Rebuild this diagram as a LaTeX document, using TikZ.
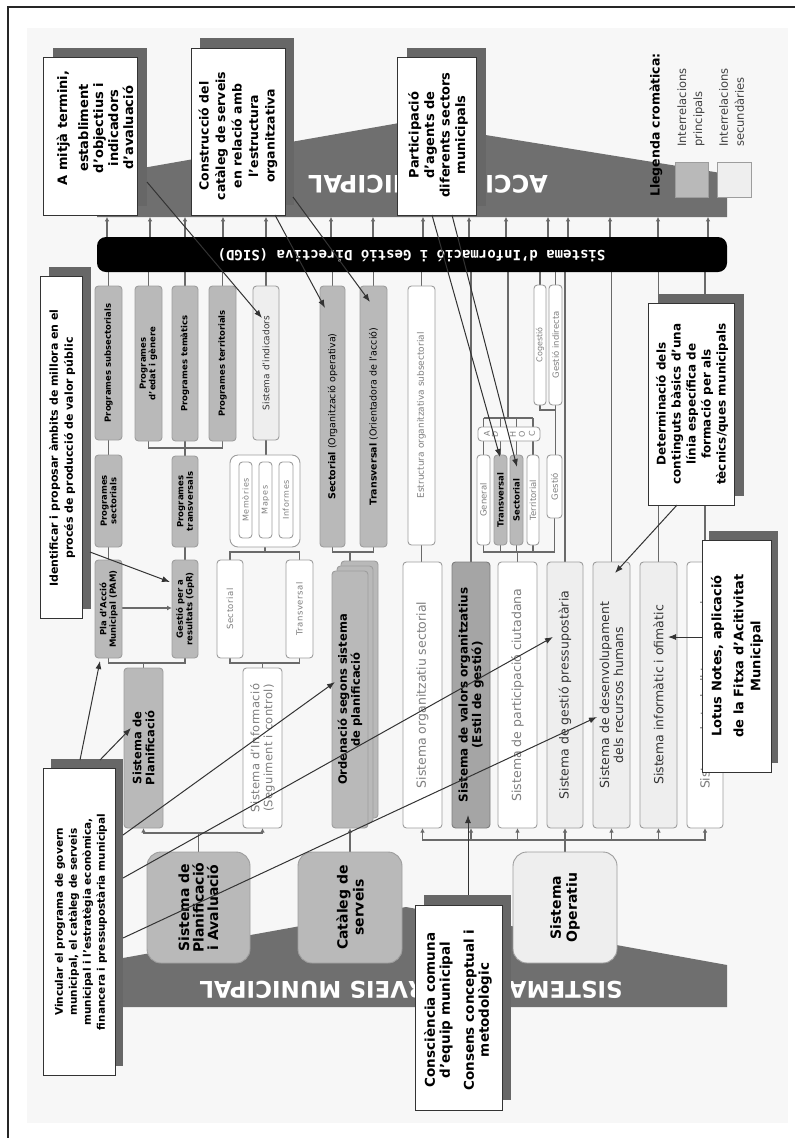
\documentclass[tikz,border=0pt]{standalone}
\usepackage{fontspec}
\setmainfont{DejaVu Sans}
\newfontfamily\monofont{DejaVu Sans Mono}
\usetikzlibrary{arrows.meta}

\definecolor{bannergray}{HTML}{6F6F6F}
\definecolor{shadowgray}{HTML}{676767}
\definecolor{boxmid}{HTML}{B9B9B9}
\definecolor{boxdark}{HTML}{A5A5A5}
\definecolor{boxlight}{HTML}{EEEEEE}
\definecolor{boxedge}{HTML}{9D9D9D}
\definecolor{conngray}{HTML}{6A6A6A}
\definecolor{textgray}{HTML}{7E7E7E}
\definecolor{textdark}{HTML}{333333}

\newcommand{\fsz}[2]{\fontsize{#1}{#2}\selectfont}
% box given by its corners: name, style, x1, y1, x2, y2
\newcommand{\boxnode}[6]{\node[#2, minimum width={(#5)-(#3)}, minimum height={(#6)-(#4)}] (#1) at ({((#3)+(#5))/2},{((#4)+(#6))/2}) {};}
% callout with dark shadow: name, x1, y1, x2, y2, dx, dy
\newcommand{\calloutbox}[7]{%
  \fill[shadowgray] ({(#2)+(#6)},{(#3)-(#7)}) rectangle ({(#4)+(#6)},{(#5)-(#7)});
  \node[callbox, minimum width={(#4)-(#2)}, minimum height={(#5)-(#3)}] (#1) at ({((#2)+(#4))/2},{((#3)+(#5))/2}) {};}

\pgfdeclarelayer{back}
\pgfdeclarelayer{lines}
\pgfdeclarelayer{front}
\pgfsetlayers{back,lines,main,front}

\begin{document}
\begin{tikzpicture}[x=1pt,y=-1pt,
  box/.style={draw=boxedge, line width=0.9pt, rounded corners=3.5pt, inner sep=0pt, outer sep=0pt},
  gbox/.style={box, fill=boxmid},
  dbox/.style={box, fill=boxdark, draw=boxedge!80!black},
  lbox/.style={box, fill=boxlight},
  wbox/.style={box, fill=white},
  bigbox/.style={rounded corners=14pt},
  vt/.style={rotate=90, align=center, inner sep=0pt},
  gt/.style={text=textgray},
  dt/.style={text=textdark},
  conn/.style={draw=conngray, line width=1.5pt},
  uparr/.style={conn, -{Latex[length=4.5pt,width=4.5pt]}},
  callbox/.style={draw=black!80, fill=white, line width=0.9pt, inner sep=0pt, outer sep=0pt},
  callarr/.style={draw=black!80, line width=1pt, -{Latex[length=8pt,width=6pt]}},
  bannertxt/.style={rotate=180, text=white, inner sep=0pt},
  callfont/.style={vt, font=#1\bfseries}
]
\useasboundingbox (0,0) rectangle (795,1138);

% ---------- background, frame and the two banners ----------
\begin{pgfonlayer}{back}
  \fill[black!3] (27,28) rectangle (788,1123);
  \draw[black!85, line width=1.2pt] (8,1138) -- (8,7) -- (795,7);
  \fill[bannergray] (97,217) -- (97,176) -- (405,122) -- (727,174) -- (727,217) -- cycle;
  \fill[bannergray] (123,1007) -- (123,958) -- (406,907) -- (727,965) -- (727,1007) -- cycle;
  \node[bannertxt, font=\fsz{24}{24}\bfseries] (acc) at (428,186) {ACCIÓ MUNICIPAL};
  \node[bannertxt, font=\fsz{23}{23}\bfseries] (ssm) at (411,990) {SISTEMA DE SERVEIS MUNICIPAL};
\end{pgfonlayer}

% ---------- SIGD bar ----------
\node[fill=black, rounded corners=9pt, minimum width=630, minimum height=35, inner sep=0pt] (bar) at (412,254.5) {};
\node[rotate=180, text=white, inner sep=0pt, font=\monofont\bfseries\fsz{14}{14}] (bartxt) at (411.5,255) {Sistema d’Informació i Gestió Directiva (SIGD)};
\foreach \x in {107,150,185,223,266,331,373,423,469,506,548,568,610,658,708}
  \draw[uparr] (bar.north -| \x,0) -- ++(0,-20);

% ---------- upper row ----------
\boxnode{ps}{gbox}{95}{286}{122}{440}
\boxnode{pe}{gbox}{135}{286}{162}{441}
\boxnode{pt}{gbox}{172}{286}{198}{441}
\boxnode{pr}{gbox}{209}{286}{236}{441}
\boxnode{ind}{lbox}{253}{286}{279}{440}
\boxnode{sop}{gbox}{320}{286}{345}{547}
\boxnode{tor}{gbox}{360}{286}{387}{547}
\boxnode{est}{wbox}{408}{286}{435}{545}
\boxnode{cog}{wbox}{534}{285}{546}{405}
\boxnode{gin}{wbox}{549}{285}{562}{405}
\node[vt, font=\fsz{8.5}{10}\bfseries] at (ps) {Programes subsectorials};
\node[vt, font=\fsz{8.5}{9.5}\bfseries] at (pe) {Programes\\d’edat i gènere};
\node[vt, font=\fsz{8.5}{10}\bfseries] at (pt) {Programes temàtics};
\node[vt, font=\fsz{8.5}{10}\bfseries] at (pr) {Programes territorials};
\node[vt, dt, font=\fsz{9}{10}] at (ind) {Sistema d’indicadors};
\node[vt, font=\fsz{9.5}{10}] at (sop) {\textbf{Sectorial} (Organització operativa)};
\node[vt, font=\fsz{9.5}{10}] at (tor) {\textbf{Transversal} (Orientadora de l’acció)};
\node[vt, gt, font=\fsz{9}{10}] at (est) {Estructura organitzativa subsectorial};
\node[vt, gt, font=\fsz{8}{9}] at (cog) {Cogestió};
\node[vt, gt, font=\fsz{8.5}{9}] at (gin) {Gestió indirecta};

% ---------- second row ----------
\boxnode{psec}{gbox}{95}{455}{122}{547}
\boxnode{ptra}{gbox}{172}{456}{198}{547}
\boxnode{grp}{wbox, rounded corners=8pt}{230}{455}{300}{547}
\boxnode{mem}{wbox}{239}{462}{252}{538}
\boxnode{map}{wbox}{259}{462}{272}{538}
\boxnode{inf}{wbox}{279}{462}{293}{538}
\boxnode{sec2}{wbox}{217}{560}{243}{658}
\boxnode{tra2}{wbox}{286}{560}{313}{658}
\boxnode{sinf}{wbox}{243}{668}{282}{828}
\boxnode{pam}{gbox}{95}{560}{122}{658}
\boxnode{gpr}{gbox}{172}{560}{198}{658}
\boxnode{splan}{gbox}{124}{668}{163}{828}
\boxnode{ord3}{gbox}{341}{561}{378}{818}
\boxnode{ord2}{gbox}{337}{566}{373}{823}
\boxnode{ord}{gbox}{332}{571}{368}{828}
\node[vt, font=\fsz{8.5}{9.5}\bfseries] at (psec) {Programes\\sectorials};
\node[vt, font=\fsz{8.5}{9.5}\bfseries] at (ptra) {Programes\\transversals};
\node[vt, gt, font=\fsz{8}{9}\addfontfeature{LetterSpace=8}] at (mem) {Memòries};
\node[vt, gt, font=\fsz{8}{9}\addfontfeature{LetterSpace=8}] at (map) {Mapes};
\node[vt, gt, font=\fsz{8}{9}\addfontfeature{LetterSpace=8}] at (inf) {Informes};
\node[vt, gt, font=\fsz{8.5}{9}\addfontfeature{LetterSpace=6}] at (sec2) {Sectorial};
\node[vt, gt, font=\fsz{8.5}{9}\addfontfeature{LetterSpace=6}] at (tra2) {Transversal};
\node[vt, gt, font=\fsz{11.5}{13}\addfontfeature{LetterSpace=3}] at (sinf) {Sistema d’Informació\\(Seguiment i control)};
\node[vt, font=\fsz{8.5}{9.5}\bfseries] at (pam) {Pla d’Acció\\Municipal (PAM)};
\node[vt, font=\fsz{8.5}{9.5}\bfseries] at (gpr) {Gestió per a\\resultats (GpR)};
\node[vt, font=\fsz{11.5}{13}\bfseries] at (splan) {Sistema de\\Planificació};
\node[vt, font=\fsz{11.5}{13}\bfseries] at (ord) {Ordenació segons sistema\\de planificació};

% ---------- ad hoc groups ----------
\boxnode{adhoc}{wbox}{478}{427}{540}{441}
\boxnode{gen}{wbox}{477}{455}{490}{545}
\boxnode{tr3}{gbox}{494}{455}{507}{545}
\boxnode{se3}{gbox}{510}{455}{523}{545}
\boxnode{ter}{wbox}{527}{455}{539}{545}
\boxnode{ges}{wbox}{547}{455}{562}{518}
\foreach \x/\l in {487/A,495/D,513/H,522/O,532/C}
  \node[vt, gt, font=\fsz{8}{8}] at (\x,434) {\l};
\node[vt, gt, font=\fsz{8.5}{9}] at (gen) {General};
\node[vt, font=\fsz{8.5}{9}\bfseries] at (tr3) {Transversal};
\node[vt, font=\fsz{8.5}{9}\bfseries] at (se3) {Sectorial};
\node[vt, gt, font=\fsz{8.5}{9}] at (ter) {Territorial};
\node[vt, gt, font=\fsz{8.5}{9}] at (ges) {Gestió};

% ---------- row of systems ----------
\boxnode{s1}{wbox}{403}{562}{442}{828}
\boxnode{s2}{dbox}{452}{562}{490}{828}
\boxnode{s3}{wbox}{498}{562}{537}{828}
\boxnode{s4}{lbox}{547}{562}{583}{828}
\boxnode{s5}{lbox}{593}{562}{630}{828}
\boxnode{s6}{lbox}{640}{562}{677}{828}
\boxnode{s7}{wbox}{687}{562}{723}{828}
\node[vt, gt, font=\fsz{12.5}{14}] at (s1) {Sistema organitzatiu sectorial};
\node[vt, font=\fsz{12}{13.5}\bfseries] at (s2) {Sistema de valors organitzatius\\(Estil de gestió)};
\node[vt, gt, font=\fsz{12.5}{14}] at (s3) {Sistema de participació ciutadana};
\node[vt, dt, font=\fsz{12.5}{14}] at (s4) {Sistema de gestió pressupostària};
\node[vt, dt, font=\fsz{12.5}{14}] at (s5) {Sistema de desenvolupament\\dels recursos humans};
\node[vt, dt, font=\fsz{12.5}{14}] at (s6) {Sistema informàtic i ofimàtic};
\node[vt, gt, font=\fsz{12.5}{14}] at (s7) {Sistema de treball transversal};

% ---------- base systems ----------
\boxnode{spa}{gbox, bigbox}{147}{852}{250}{963}
\boxnode{cat}{gbox, bigbox}{298}{852}{402}{963}
\boxnode{opr}{lbox, bigbox}{513}{852}{617}{963}
\node[vt, font=\fsz{14}{14.5}\bfseries] at (spa) {Sistema de\\Planificació\\i Avaluació};
\node[vt, font=\fsz{14}{16}\bfseries] at (cat) {Catàleg de\\serveis};
\node[vt, font=\fsz{14}{16}\bfseries] at (opr) {Sistema\\Operatiu};

% ---------- legend ----------
\node[rotate=90, anchor=west, inner sep=0pt, font=\fsz{12.5}{14}\bfseries] (legt) at (656,197) {Llegenda cromàtica:};
\node[fill=boxmid, draw=boxedge, line width=0.8pt, minimum width=33, minimum height=35, inner sep=0pt] (legp) at (691.5,179.5) {};
\node[fill=boxlight, draw=boxedge, line width=0.8pt, minimum width=34, minimum height=35, inner sep=0pt] (legs) at (734,179.5) {};
\node[rotate=90, anchor=west, align=left, inner sep=0pt, text=black!75, font=\fsz{11.5}{16}] (legpt) at (691,147) {Interrelacions\\principals};
\node[rotate=90, anchor=west, align=left, inner sep=0pt, text=black!75, font=\fsz{11.5}{16}] (legst) at (731.5,147) {Interrelacions\\secundàries};

% ---------- grey connectors ----------
\begin{pgfonlayer}{lines}
  \foreach \n in {ps,pe,pt,pr,ind,sop,tor,est,cog,gin,s2,s4,s5,s6,s7}
    \draw[conn] (\n.north) -- (\n.north |- bar.south);
  % ad hoc structure
  \coordinate (adj) at (508,418);
  \draw[conn] (bar.south -| adj) -- (adj);
  \draw[conn] (gen.north |- adj) -- (ter.north |- adj);
  \foreach \n in {gen,tr3,se3,ter}
    \draw[conn] (\n.north |- adj) -- (\n.north);
  \draw[conn] (gen.south) -- ++(0,7) -| (ges.south);
  \foreach \n in {tr3,se3,ter}
    \draw[conn] (\n.south) -- ++(0,7);
  \draw[conn] (s3.north) -- ++(0,-10);
  \draw[conn] (cog.south) -- ++(0,5) -| (gin.south);
  \draw[conn] (gin.south) -- (gin.south |- ges.north);
  % programmes
  \draw[conn] (ps.south) -- (psec.north);
  \draw[conn] (psec.south) -- (pam.north);
  \draw[conn] (pe.south) -- ++(0,7) -| (pr.south);
  \draw[conn] (pt.south) -- (ptra.north);
  \draw[conn] (ptra.south) -- (gpr.north);
  \draw[conn, -{Latex[length=5pt,width=5pt]}] (pam.east |- 0,608) -- (gpr.west |- 0,608);
  \draw[conn] (pam.south) -- ++(0,5) -| (gpr.south);
  \draw[conn] (splan.north) -- ++(0,-5);
  % indicators and reports
  \draw[conn] (ind.south) -- (ind.south |- grp.north);
  \draw[conn] (sec2.north) -- ++(0,-8) -| (tra2.north);
  \draw[conn] (grp.south) -- ++(0,5);
  \draw[conn] (sec2.south) -- ++(0,5) -| (tra2.south);
  \draw[conn] (sinf.north) -- ++(0,-5);
  % planning order
  \draw[conn] (sop.south) -- ++(0,5) -| (tor.south);
  \draw[conn] (ord.north) -- ++(0,-19);
  \draw[uparr] (cat.north) -- (ord.south);
  \draw[uparr] (spa.north) -- ++(0,-19) -| (splan.south);
  \draw[uparr] (spa.north) -- ++(0,-19) -| (sinf.south);
  \draw[conn] (est.south) -- (est.south |- s1.north);
  \foreach \n in {s1,s2,s3,s4,s5,s6,s7}
    \draw[uparr] (opr.north) -- ++(0,-12) -| (\n.south);
\end{pgfonlayer}

% ---------- callouts ----------
\begin{pgfonlayer}{front}
  \calloutbox{c1}{43}{57}{137}{215}{10}{9}
  \calloutbox{c2}{191}{48}{285}{215}{9}{10}
  \calloutbox{c3}{397}{57}{476}{215}{10}{9}
  \calloutbox{c4}{40}{276}{82}{618}{9}{9}
  \calloutbox{c5}{43}{768}{115}{1075}{8}{9}
  \calloutbox{c6}{415}{905}{502}{1110}{9}{10}
  \calloutbox{c7}{648}{303}{734}{505}{10}{9}
  \calloutbox{c8}{702}{540}{771}{772}{7}{9}

  \node[callfont=\fsz{13}{15}] at (95,128) {A mitjà termini,\\[6pt]establiment\\d’objectius i\\indicadors\\d’avaluació};
  \node[callfont=\fsz{12.5}{16.5}] at (238,136) {Construcció del\\catàleg de serveis\\en relació amb\\l’estructura\\organitzativa};
  \node[callfont=\fsz{13}{15.5}] at (438,135) {Participació\\d’agents de\\diferents sectors\\municipals};
  \node[callfont=\fsz{11}{15}] at (62,448) {Identificar i proposar àmbits de millora en el\\procés de producció de valor públic};
  \node[callfont=\fsz{10.5}{14}] at (81,922) {Vincular el programa de govern\\municipal, el catàleg de serveis\\municipal i l’estratègia econòmica,\\financera i pressupostària municipal};
  \node[callfont=\fsz{13.5}{15}] at (458,1010) {Consciència comuna\\d’equip municipal\\[9pt]Consens conceptual i\\metodològic};
  \node[callfont=\fsz{12}{15}] at (692,404) {Determinació dels\\continguts bàsics d’una\\línia específica de\\formació per als\\tècnics/ques municipals};
  \node[callfont=\fsz{13}{17}] at (737,656) {Lotus Notes, aplicació\\[5pt]de la Fitxa d’Acitivitat\\Municipal};

  % arrows from the callouts
  \coordinate (a1s) at (147,182);  \coordinate (a1e) at (262,318);
  \coordinate (a2s) at (275,215);  \coordinate (a2e) at (325,308);
  \coordinate (a3s) at (293,197);  \coordinate (a3e) at (370,302);
  \coordinate (a4s) at (432,215);  \coordinate (a4e) at (500,457);
  \coordinate (a5s) at (452,215);  \coordinate (a5e) at (517,467);
  \coordinate (a6s) at (90,552);   \coordinate (a6e) at (170,582);
  \coordinate (a7s) at (80,760);   \coordinate (a7e) at (100,661);
  \coordinate (a8s) at (100,760);  \coordinate (a8e) at (131,728);
  \coordinate (a9s) at (123,835);  \coordinate (a9e) at (335,682);
  \coordinate (a10s) at (123,878); \coordinate (a10e) at (553,637);
  \coordinate (a11s) at (123,938); \coordinate (a11e) at (597,717);
  \coordinate (a12s) at (468,895); \coordinate (a12e) at (468,815);
  \coordinate (a13s) at (677,505); \coordinate (a13e) at (615,573);
  \coordinate (a14s) at (702,637); \coordinate (a14e) at (668,637);
  \foreach \i in {1,...,14}
    \draw[callarr] (a\i s) -- (a\i e);
\end{pgfonlayer}
\end{tikzpicture}
\end{document}
